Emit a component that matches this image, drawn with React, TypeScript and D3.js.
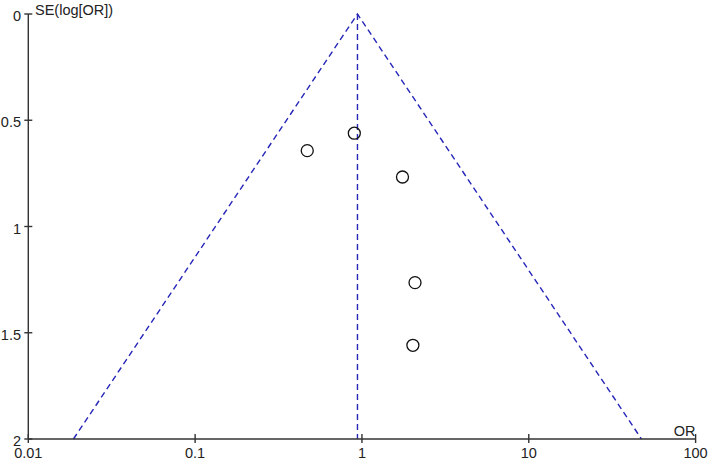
import { useEffect, useRef } from "react";
import * as d3 from "d3";

// study estimates
const studyOR = [0.47, 0.9, 1.75, 2.08, 2.02];
const studySE = [0.643, 0.561, 0.767, 1.264, 1.559];

const pooledOR = 0.94;
const seMax = 2;

const xTicks = [0.01, 0.1, 1, 10, 100];
const xTickLabels = ["0.01", "0.1", "1", "10", "100"];
const yTicks = [0, 0.5, 1, 1.5, 2];
const yTickLabels = ["0", "0.5", "1", "1.5", "2"];

const App = () => {
  const svgRef = useRef<SVGSVGElement>(null);

  useEffect(() => {
    const svg = d3.select(svgRef.current);
    svg.selectAll("*").remove();

    const font = "'Liberation Sans', Arial, sans-serif";
    const fontSize = "14.5px";
    const axisColor = "#333";
    const dashColor = "#2525b8";

    const x = d3.scaleLog().domain([0.01, 100]).range([28.3, 695.6]);
    const y = d3.scaleLinear().domain([0, 2]).range([14, 439]);

    // funnel: 95% limits around pooled estimate
    const lo = pooledOR * Math.exp(-1.96 * seMax);
    const hi = pooledOR * Math.exp(1.96 * seMax);

    const funnel = d3.line<[number, number]>()
      .x(d => x(d[0]))
      .y(d => y(d[1]));

    svg.append("path")
      .attr("d", funnel([[lo, seMax], [pooledOR, 0], [hi, seMax]]))
      .attr("fill", "none")
      .attr("stroke", dashColor)
      .attr("stroke-width", 1.4)
      .attr("stroke-dasharray", "6,4");

    svg.append("path")
      .attr("d", funnel([[pooledOR, 0], [pooledOR, seMax]]))
      .attr("fill", "none")
      .attr("stroke", dashColor)
      .attr("stroke-width", 1.4)
      .attr("stroke-dasharray", "6,4");

    // axes
    svg.append("line")
      .attr("x1", x(0.01)).attr("x2", x(0.01))
      .attr("y1", y(0)).attr("y2", y(2))
      .attr("stroke", axisColor).attr("stroke-width", 1.4);
    svg.append("line")
      .attr("x1", x(0.01)).attr("x2", x(100))
      .attr("y1", y(2)).attr("y2", y(2))
      .attr("stroke", axisColor).attr("stroke-width", 1.4);

    svg.selectAll(".ytick")
      .data(yTicks)
      .enter()
      .append("line")
      .attr("x1", x(0.01) - 4).attr("x2", x(0.01) + 4)
      .attr("y1", d => y(d)).attr("y2", d => y(d))
      .attr("stroke", axisColor).attr("stroke-width", 1.4);

    svg.selectAll(".ylabel")
      .data(yTicks)
      .enter()
      .append("text")
      .attr("x", 21)
      .attr("y", d => y(d) + 7)
      .attr("text-anchor", "end")
      .style("font-family", font)
      .style("font-size", fontSize)
      .attr("fill", "#222")
      .text((d, i) => yTickLabels[i]);

    svg.selectAll(".xtick")
      .data(xTicks)
      .enter()
      .append("line")
      .attr("x1", d => x(d)).attr("x2", d => x(d))
      .attr("y1", y(2) - 5).attr("y2", y(2) + 4)
      .attr("stroke", axisColor).attr("stroke-width", 1.4);

    svg.selectAll(".xlabel")
      .data(xTicks)
      .enter()
      .append("text")
      .attr("x", d => x(d))
      .attr("y", y(2) + 19)
      .attr("text-anchor", "middle")
      .style("font-family", font)
      .style("font-size", fontSize)
      .attr("fill", "#222")
      .text((d, i) => xTickLabels[i]);

    svg.append("text")
      .attr("x", 35)
      .attr("y", 15)
      .style("font-family", font)
      .style("font-size", fontSize)
      .attr("fill", "#222")
      .text("SE(log[OR])");

    svg.append("text")
      .attr("x", x(100))
      .attr("y", y(2) - 3)
      .attr("text-anchor", "end")
      .style("font-family", font)
      .style("font-size", fontSize)
      .attr("fill", "#222")
      .text("OR");

    // studies
    svg.selectAll(".study")
      .data(studyOR)
      .enter()
      .append("circle")
      .attr("cx", d => x(d))
      .attr("cy", (d, i) => y(studySE[i]))
      .attr("r", 6)
      .attr("fill", "none")
      .attr("stroke", "#111")
      .attr("stroke-width", 1.3);
  }, []);

  return (
    <div style={{ position: "absolute", left: 0, top: 0, background: "#fff" }}>
      <svg ref={svgRef} width={709} height={461} style={{ display: "block" }}></svg>
    </div>
  );
};

export default App;
